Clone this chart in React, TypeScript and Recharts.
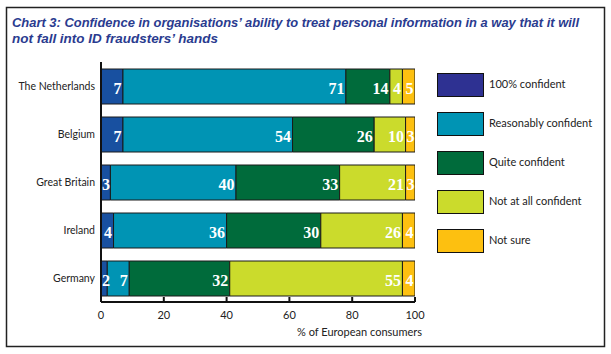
import React from 'react';
import { BarChart, Bar, XAxis, YAxis, Legend, LabelList } from 'recharts';

const countries = ['The Netherlands', 'Belgium', 'Great Britain', 'Ireland', 'Germany'];
const seriesNames = ['100% confident', 'Reasonably confident', 'Quite confident', 'Not at all confident', 'Not sure'];
const fullyConfident = [7, 7, 3, 4, 2];
const reasonablyConfident = [71, 54, 40, 36, 7];
const quiteConfident = [14, 26, 33, 30, 32];
const notAtAllConfident = [4, 10, 21, 26, 55];
const notSure = [5, 3, 3, 4, 4];
const xTicks = [0, 20, 40, 60, 80, 100];
const seriesKeys = ['fully', 'reasonably', 'quite', 'notAtAll', 'notSure'];
const barColors = ['#1850a0', '#0094b4', '#006b3b', '#cbdb2c', '#fdc010'];
const legendColors = ['#2e3192', '#0094b4', '#006b3b', '#cbdb2c', '#fdc010'];
const titleLines = [
  'Chart 3: Confidence in organisations\u2019 ability to treat personal information in a way that it will',
  'not fall into ID fraudsters\u2019 hands',
];
const axisTitle = '% of European consumers';

const seriesValues = [fullyConfident, reasonablyConfident, quiteConfident, notAtAllConfident, notSure];
const data = countries.map((name, i) => {
  const row: any = { name };
  seriesKeys.forEach((k, j) => {
    row[k] = seriesValues[j][i];
  });
  return row;
});

const SANS = 'Lato, "Open Sans", sans-serif';

const SegmentLabel = (props: any) => {
  const x = Number(props.x);
  const y = Number(props.y);
  const w = Number(props.width);
  const h = Number(props.height);
  const narrow = w < 10;
  return (
    <text
      x={narrow ? x + 1 : x + w - 1.5}
      y={y + h / 2 + 2}
      textAnchor={narrow ? 'start' : 'end'}
      dominantBaseline="central"
      fill="#ffffff"
      fontFamily='"Liberation Serif", "DejaVu Serif", serif'
      fontWeight="bold"
      fontSize={16}
    >
      {props.value}
    </text>
  );
};

const XTick = (props: any) => {
  const x = Number(props.x);
  const y = Number(props.y);
  return (
    <g>
      <line x1={x} x2={x} y1={y - 5} y2={y} stroke="#111" strokeWidth={2} />
      <text x={x} y={y + 12} textAnchor="middle" dominantBaseline="central" fontFamily={SANS} fontSize={11} fill="#222">
        {props.payload.value}
      </text>
    </g>
  );
};

const YTick = (props: any) => {
  const x = Number(props.x);
  const y = Number(props.y);
  return (
    <text x={x} y={y} textAnchor="end" dominantBaseline="central" fontFamily={SANS} fontSize={10.5} fill="#222">
      {props.payload.value}
    </text>
  );
};

const LegendContent = () => (
  <div style={{ fontFamily: SANS, fontSize: 11, color: '#222' }}>
    {seriesNames.map((n, i) => (
      <div key={n} style={{ display: 'flex', alignItems: 'center', height: 24, marginBottom: 15 }}>
        <div
          style={{
            width: 45,
            height: 22,
            background: legendColors[i],
            border: '1px solid #111',
            marginRight: 5,
            flex: 'none',
          }}
        />
        <span style={{ marginTop: -3 }}>{n}</span>
      </div>
    ))}
  </div>
);

const AxisTitle = (props: any) => {
  const vb = props.viewBox || {};
  return (
    <text
      x={Number(vb.x) + Number(vb.width) + 7}
      y={Number(vb.y) + 29}
      textAnchor="end"
      dominantBaseline="central"
      fontFamily={SANS}
      fontSize={11}
      fill="#222"
    >
      {axisTitle}
    </text>
  );
};

export default function App() {
  return (
    <div style={{ position: 'absolute', left: 0, top: 0, width: 611, height: 354, background: '#fff' }}>
      <svg width={611} height={354} style={{ position: 'absolute', left: 0, top: 0 }}>
        <rect x={6.5} y={7.5} width={598} height={339} fill="#fff" stroke="#222" strokeWidth={1.5} />
        <text
          x={12}
          y={27}
          fontFamily='"Liberation Sans", Arial, sans-serif'
          fontStyle="italic"
          fontWeight="bold"
          fontSize={12}
          fill="#2a3b8f"
          textLength={567}
          lengthAdjust="spacingAndGlyphs"
        >
          {titleLines[0]}
        </text>
        <text
          x={12}
          y={43}
          fontFamily='"Liberation Sans", Arial, sans-serif'
          fontStyle="italic"
          fontWeight="bold"
          fontSize={12}
          fill="#2a3b8f"
          textLength={206}
          lengthAdjust="spacingAndGlyphs"
        >
          {titleLines[1]}
        </text>
      </svg>
      <div style={{ position: 'absolute', left: 0, top: 0 }}>
        <BarChart
          width={611}
          height={354}
          data={data}
          layout="vertical"
          margin={{ top: 62, right: 196, bottom: 22, left: 0 }}
          barSize={35}
        >
          <XAxis
            type="number"
            domain={[0, 100]}
            ticks={xTicks}
            allowDataOverflow
            height={30}
            tickSize={0}
            tickMargin={0}
            tick={<XTick />}
            axisLine={{ stroke: '#111', strokeWidth: 2 }}
            label={<AxisTitle />}
          />
          <YAxis
            type="category"
            dataKey="name"
            width={101}
            tickLine={false}
            tickSize={6}
            tickMargin={0}
            tick={<YTick />}
            axisLine={{ stroke: '#111', strokeWidth: 2 }}
          />
          <Legend
            layout="vertical"
            align="center"
            verticalAlign="middle"
            wrapperStyle={{ left: 437, top: 73, width: 170 }}
            content={<LegendContent />}
          />
          {seriesKeys.map((k, i) => (
            <Bar
              key={k}
              dataKey={k}
              name={seriesNames[i]}
              stackId="a"
              fill={barColors[i]}
              stroke="#1a1a1a"
              strokeWidth={1}
              isAnimationActive={false}
            >
              <LabelList dataKey={k} content={<SegmentLabel />} />
            </Bar>
          ))}
        </BarChart>
      </div>
    </div>
  );
}
